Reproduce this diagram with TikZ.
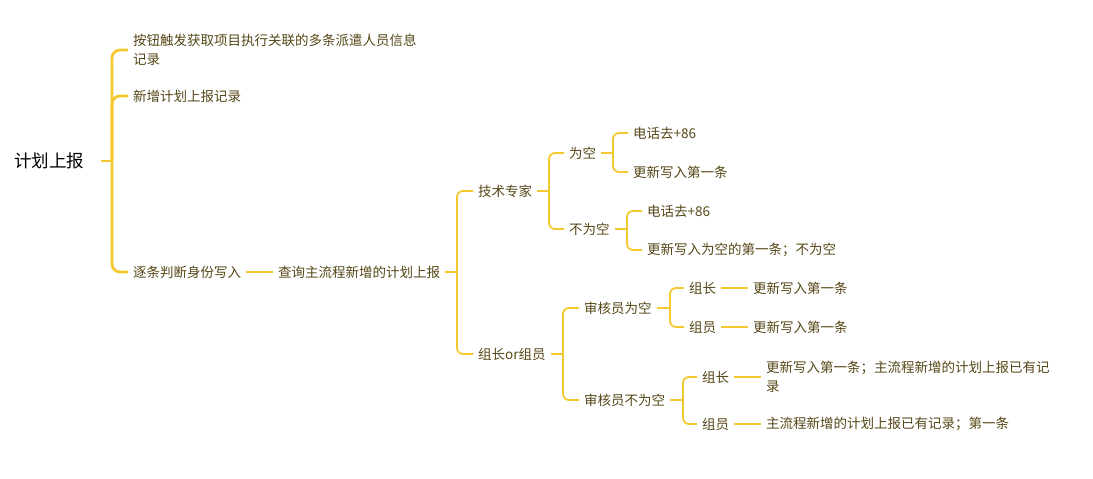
\documentclass[tikz,border=0pt]{standalone}
\usepackage{fontspec}
\setmainfont{Noto Sans CJK SC}
\usetikzlibrary{positioning}
\definecolor{mmyellow}{RGB}{244, 201, 48}
\definecolor{mmtext}{RGB}{85, 70, 22}

\begin{document}
\begin{tikzpicture}[x=1pt,y=-1pt,
  topic/.style={anchor=west,inner xsep=5pt,inner ysep=2pt,text=mmtext,
    font=\fontsize{13.5}{19}\selectfont},
  branch/.style={draw=mmyellow,line width=1.8pt,rounded corners=6pt},
  trunk/.style={draw=mmyellow,line width=2.8pt,rounded corners=8pt}]
\useasboundingbox (0,0) rectangle (1093,479);

% Root
\node[anchor=west,inner xsep=17pt,font=\fontsize{17.5}{20}\selectfont] (root) at (-3,161) {计划上报};

% First level
\node[topic,align=left] (a1) at (128,50) {按钮触发获取项目执行关联的多条派遣人员信息\\记录};
\node[topic] (a2) at (128,96) {新增计划上报记录};
\node[topic] (a3) at (128,272) {逐条判断身份写入};
\node[topic] (b) at (273,272) {查询主流程新增的计划上报};

% Roles
\node[topic] (c1) at (473,191) {技术专家};
\node[topic] (c2) at (473,354) {组长or组员};

% Technical expert
\node[topic] (d1) at (564,153) {为空};
\node[topic] (d2) at (564,229) {不为空};
\node[topic] (e1) at (628,133) {电话去+86};
\node[topic] (e2) at (628,172) {更新写入第一条};
\node[topic] (e3) at (642,211) {电话去+86};
\node[topic] (e4) at (642,250) {更新写入为空的第一条；不为空};

% Leader or member
\node[topic] (d3) at (579,308) {审核员为空};
\node[topic] (d4) at (579,400) {审核员不为空};
\node[topic] (f1) at (684,288) {组长};
\node[topic] (f2) at (684,327) {组员};
\node[topic] (g1) at (748,288) {更新写入第一条};
\node[topic] (g2) at (748,327) {更新写入第一条};
\node[topic] (f3) at (697,377) {组长};
\node[topic] (f4) at (697,424) {组员};
\node[topic,align=left] (g3) at (761,377) {更新写入第一条；主流程新增的计划上报已有记\\录};
\node[topic] (g4) at (761,424) {主流程新增的计划上报已有记录；第一条};

% Bracket points
\coordinate (rb) at (112,161);
\coordinate (bb) at (457,272);
\coordinate (c1b) at (549,191);
\coordinate (c2b) at (563,354);
\coordinate (d1b) at (613,153);
\coordinate (d2b) at (627,229);
\coordinate (d3b) at (670,308);
\coordinate (d4b) at (683,400);

% Connections
\draw[trunk] (root.east) -- (rb);
\foreach \c in {a1,a2,a3} {
    \draw[trunk] (rb) |- (\c.west);
}
\draw[branch] (a3.east) -- (b.west);
\draw[branch] (b.east) -- (bb);
\foreach \c in {c1,c2} {
    \draw[branch] (bb) |- (\c.west);
}
\draw[branch] (c1.east) -- (c1b);
\foreach \c in {d1,d2} {
    \draw[branch] (c1b) |- (\c.west);
}
\draw[branch] (c2.east) -- (c2b);
\foreach \c in {d3,d4} {
    \draw[branch] (c2b) |- (\c.west);
}
\draw[branch] (d1.east) -- (d1b);
\foreach \c in {e1,e2} {
    \draw[branch] (d1b) |- (\c.west);
}
\draw[branch] (d2.east) -- (d2b);
\foreach \c in {e3,e4} {
    \draw[branch] (d2b) |- (\c.west);
}
\draw[branch] (d3.east) -- (d3b);
\foreach \c in {f1,f2} {
    \draw[branch] (d3b) |- (\c.west);
}
\draw[branch] (d4.east) -- (d4b);
\foreach \c in {f3,f4} {
    \draw[branch] (d4b) |- (\c.west);
}
\draw[branch] (f1.east) -- (g1.west);
\draw[branch] (f2.east) -- (g2.west);
\draw[branch] (f3.east) -- (g3.west);
\draw[branch] (f4.east) -- (g4.west);
\end{tikzpicture}
\end{document}
